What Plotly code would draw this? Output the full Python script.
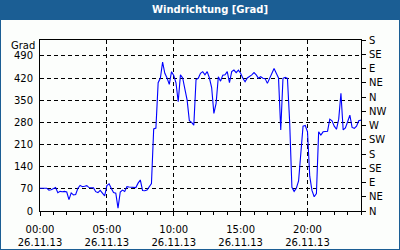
import plotly.graph_objects as go

# --- data (10-minute samples, 26.11.13) ---
times = [f"{m // 60:02d}:{m % 60:02d}" for m in range(0, 1441, 10)]
values = [
    72, 73, 72, 72, 66, 67, 70, 74, 58, 62, 61, 62,          # 00:00-01:50
    60, 36, 57, 51, 52, 72, 81, 77, 78, 80, 74, 74,          # 02:00-03:50
    73, 61, 58, 65, 55, 48, 80, 86, 71, 58, 56, 9,           # 04:00-05:50
    60, 66, 62, 77, 76, 75, 76, 74, 88, 98, 65, 64,          # 06:00-07:50
    66, 76, 87, 259, 262, 405, 420, 470, 435, 420, 400, 440, # 08:00-09:50
    428, 405, 345, 430, 420, 385, 350, 285, 280, 271, 415, 419,  # 10:00-11:50
    435, 440, 430, 440, 420, 390, 308, 340, 424, 410, 429, 430,  # 12:00-13:50
    440, 405, 440, 445, 437, 445, 435, 419, 408, 420, 424, 430,  # 14:00-15:50
    437, 430, 419, 424, 419, 418, 403, 420, 437, 450, 435, 420,  # 16:00-17:50
    256, 419, 422, 419, 280, 75, 62, 72, 95, 190, 268, 270,      # 18:00-19:50
    250, 110, 65, 45, 55, 250, 240, 250, 250, 252, 290, 285,     # 20:00-21:50
    268, 258, 290, 372, 256, 262, 282, 303, 264, 261, 268, 285,  # 22:00-23:50
    287,                                                         # 24:00
]
left_ticks = [0, 70, 140, 210, 280, 350, 420, 490]
dir_vals = [0, 45, 90, 135, 180, 225, 270, 315, 360, 405, 450, 495, 540]
dir_text = ["N", "NE", "E", "SE", "S", "SW", "W", "NW", "N", "NE", "E", "SE", "S"]
x_ticks = [0, 5, 10, 15, 20]
x_text = ["00:00<br>26.11.13", "05:00<br>26.11.13", "10:00<br>26.11.13",
          "15:00<br>26.11.13", "20:00<br>26.11.13"]

hours = [int(t[:2]) + int(t[3:]) / 60 for t in times]

W, H = 400, 250
L, R, T, B = 40, 39, 40, 39
PW, PH = W - L - R, H - T - B


def px(X):
    return (X - L) / PW


def py(Y):
    return (H - B - Y) / PH


BLUE = "#1b5e94"
BG = "#fcfefc"
FONT = "DejaVu Sans"

fig = go.Figure()
fig.add_trace(go.Scatter(x=hours, y=values, mode="lines",
                         line=dict(color="#0000ff", width=1.1),
                         hoverinfo="skip", showlegend=False))
fig.add_trace(go.Scatter(x=[0], y=[0], yaxis="y2", mode="markers",
                         marker=dict(opacity=0), hoverinfo="skip",
                         showlegend=False))

fig.update_layout(
    width=W, height=H,
    margin=dict(l=L, r=R, t=T, b=B, pad=0, autoexpand=False),
    paper_bgcolor=BG, plot_bgcolor=BG,
    font=dict(family=FONT, size=10, color="black"),
    xaxis=dict(range=[0, 24], tickvals=x_ticks, ticktext=x_text,
               ticks="outside", ticklen=4, tickcolor="black",
               showline=True, linecolor="black", linewidth=1, mirror=True,
               showgrid=True, gridcolor="black", gridwidth=1,
               griddash="4px,3px", zeroline=False, ticklabelstandoff=5,
               automargin=False,
               minor=dict(dtick=1, tick0=0, ticks="outside", ticklen=3,
                          tickcolor="black", showgrid=False),
               tickfont=dict(family=FONT, size=10, color="black")),
    yaxis=dict(range=[0, 540], tickvals=left_ticks, ticks="",
               showline=True, linecolor="black", linewidth=1, mirror=True,
               showgrid=True, gridcolor="black", gridwidth=1,
               griddash="4px,3px", zeroline=False, automargin=False,
               ticklabelstandoff=4,
               tickfont=dict(family=FONT, size=10, color="black")),
    yaxis2=dict(range=[0, 540], overlaying="y", side="right",
                tickvals=dir_vals, ticktext=dir_text,
                ticks="outside", ticklen=4, tickcolor="black",
                showline=True, linecolor="black", linewidth=1,
                showgrid=False, zeroline=False, ticklabelstandoff=1,
                automargin=False,
                tickfont=dict(family=FONT, size=10, color="black")),
    shapes=[
        dict(type="rect", xref="paper", yref="paper",
             x0=px(0), x1=px(W), y0=py(20), y1=py(0),
             fillcolor=BLUE, line=dict(width=0), layer="above"),
        dict(type="rect", xref="paper", yref="paper",
             x0=px(0), x1=px(W), y0=py(H), y1=py(0),
             fillcolor="rgba(0,0,0,0)", line=dict(color=BLUE, width=2),
             layer="above"),
    ],
    annotations=[
        dict(text="<b>Windrichtung [Grad]</b>", xref="paper", yref="paper",
             x=px(209.5), y=py(10), xanchor="center", yanchor="middle",
             showarrow=False, font=dict(family=FONT, size=10, color="white")),
        dict(text="Grad", xref="paper", yref="paper",
             x=px(36), y=py(45), xanchor="right", yanchor="middle",
             borderpad=0,
             showarrow=False, font=dict(family=FONT, size=10, color="black")),
    ],
)

fig.write_html("out.html")
